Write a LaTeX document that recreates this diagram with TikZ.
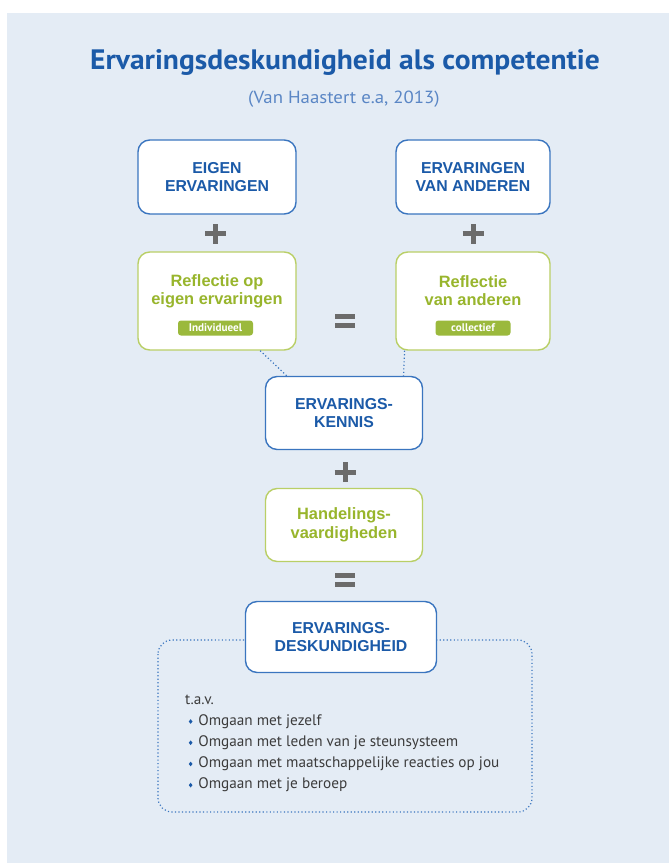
\documentclass[tikz,border=0pt]{standalone}
\usepackage{fontspec}
\setmainfont{PT Sans}
\newfontfamily\titlefont[FakeStretch=1.05]{PT Sans}
\newfontfamily\subfont[FakeStretch=1.07]{PT Sans}
\newfontfamily\boxfont{Liberation Sans}
\usetikzlibrary{positioning}

\definecolor{panelbg}{HTML}{E4ECF5}
\definecolor{ervblue}{HTML}{1B5AA8}
\definecolor{ervline}{HTML}{3A75BF}
\definecolor{ervsub}{HTML}{5A86C5}
\definecolor{ervgreen}{HTML}{98B52C}
\definecolor{ervgreenline}{HTML}{B9CF66}
\definecolor{ervtag}{HTML}{9BB93C}
\definecolor{ervgrey}{HTML}{6B6B6B}
\definecolor{ervtext}{HTML}{3C3C3C}

\newcommand{\bul}{\tikz[baseline=-3.2pt]\fill[ervblue] (0,-2pt) -- (1.6pt,0) -- (0,2pt) -- (-1.6pt,0) -- cycle;}

\begin{document}
\begin{tikzpicture}[x=0.3mm, y=-0.3mm]
        % Define styles for shapes
        \tikzstyle{bluebox} = [draw=ervline, line width=1.2pt, fill=white, rounded corners=10pt, align=center,
            text=ervblue, font=\boxfont\bfseries\fontsize{13.5}{15.5}\selectfont, minimum width=47.4mm, minimum height=22.2mm]
        \tikzstyle{greenbox} = [draw=ervgreenline, line width=1.2pt, fill=white, rounded corners=10pt,
            minimum width=47.4mm, minimum height=29.4mm]
        \tikzstyle{greentext} = [align=center, text=ervgreen, font=\boxfont\bfseries\fontsize{14}{15.5}\selectfont]
        \tikzstyle{tag} = [fill=ervtag, rounded corners=2.5pt, text=white, minimum width=22.5mm, minimum height=4.5mm,
            inner sep=0pt, font=\bfseries\fontsize{9.5}{11}\selectfont]
        \tikzstyle{sign} = [draw=ervgrey, line width=1.5mm]
        \tikzstyle{dots} = [draw=ervline, line width=1pt, dotted]

        % Background
        \useasboundingbox (0,0) rectangle (669,863);
        \fill[white] (0,0) rectangle (669,863);
        \fill[panelbg] (7,13) rectangle (669,863);

        % Title
        \node[text=ervblue, font=\titlefont\bfseries\fontsize{24}{28}\selectfont] (title) at (345,62)
            {Ervaringsdeskundigheid als competentie};
        \node[text=ervsub, font=\subfont\fontsize{15}{17}\selectfont] (source) at (344,99)
            {(Van Haastert e.a, 2013)};

        % Frame round the last box
        \draw[dots, rounded corners=12pt] (158,640) rectangle (532,812);

        % Draw shapes
        \node[bluebox] (eigen) at (217,177) {EIGEN\\ERVARINGEN};
        \node[bluebox, minimum width=46.2mm] (anderen) at (473,177) {ERVARINGEN\\VAN ANDEREN};

        \node[greenbox] (refl1) at (217,301) {};
        \node[greentext] (refl1txt) at (217,291) {Reflectie op\\eigen ervaringen};
        \node[tag] (indiv) at (215.5,328) {Individueel};
        \node[greenbox, minimum width=46.2mm] (refl2) at (473,301) {};
        \node[greentext] (refl2txt) at (473,291) {Reflectie\\van anderen};
        \node[tag] (coll) at (473,328) {collectief};

        \node[bluebox, minimum width=47.1mm, minimum height=21.9mm] (kennis) at (344,413) {ERVARINGS-\\KENNIS};
        \node[greenbox, minimum width=47.1mm, minimum height=21.9mm, align=center, text=ervgreen,
            font=\boxfont\bfseries\fontsize{14}{16}\selectfont] (handel) at (344,525) {Handelings-\\vaardigheden};

        \node[bluebox, minimum width=57.3mm, minimum height=21.3mm] (deskundig) at (341,637) {ERVARINGS-\\DESKUNDIGHEID};

        \node[anchor=north west, inner sep=0pt, text=ervtext, font=\fontsize{13}{18.1}\selectfont] (tav) at (185,689) {
                \begin{tabular}{@{\hspace{3pt}}l@{\hspace{5pt}}l@{}}
                    \multicolumn{2}{@{}l}{t.a.v.} \\
                    \bul & Omgaan met jezelf \\
                    \bul & Omgaan met leden van je steunsysteem \\
                    \bul & Omgaan met maatschappelijke reacties op jou \\
                    \bul & Omgaan met je beroep \\
                \end{tabular}
        };

        % Plus and equal signs
        \coordinate (plus1) at (215.5,234);
        \coordinate (plus2) at (473,234);
        \coordinate (plus3) at (345,472);
        \coordinate (equal1) at (345,321.3);
        \coordinate (equal2) at (345,580);
        \foreach \p in {plus1, plus2, plus3} {
            \draw[sign] ([xshift=-3.15mm]\p) -- ([xshift=3.15mm]\p);
            \draw[sign] ([yshift=-3mm]\p) -- ([yshift=3mm]\p);
        }
        \foreach \e in {equal1, equal2} {
            \draw[sign] ([xshift=-3mm, yshift=1.35mm]\e) -- ([xshift=3mm, yshift=1.35mm]\e);
            \draw[sign] ([xshift=-3mm, yshift=-1.35mm]\e) -- ([xshift=3mm, yshift=-1.35mm]\e);
        }

        % Draw dotted links
        \draw[dots] (refl1.-49) -- (kennis.147);
        \draw[dots] (refl2.-144) -- (kennis.32);
    \end{tikzpicture}
\end{document}
